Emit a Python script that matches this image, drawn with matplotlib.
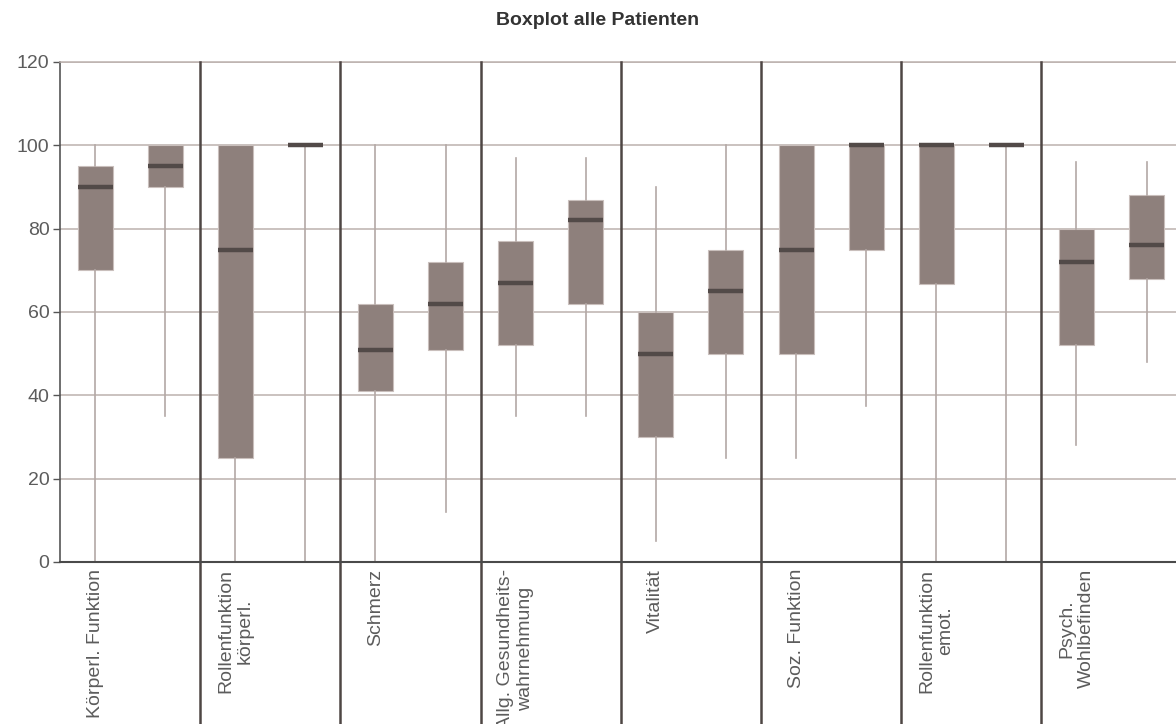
import matplotlib
matplotlib.use("Agg")
import matplotlib.pyplot as plt
import numpy as np

plt.rcParams['font.family'] = ['Liberation Sans', 'DejaVu Sans']

categories = ["Körperl. Funktion", "Rollenfunktion\nkörperl.", "Schmerz",
              "Allg. Gesundheits-\nwahrnehmung", "Vitalität", "Soz. Funktion",
              "Rollenfunktion\nemot.", "Psych.\nWohlbefinden"]

# Two boxes per scale: [first, second]
q1 = [[70, 90], [25, 100], [41, 51], [52, 62], [30, 50], [50, 75], [66.67, 100], [52, 68]]
med = [[90, 95], [75, 100], [51, 62], [67, 82], [50, 65], [75, 100], [100, 100], [72, 76]]
q3 = [[95, 100], [100, 100], [62, 72], [77, 87], [60, 75], [100, 100], [100, 100], [80, 88]]
whislo = [[0, 35], [0, 0], [0, 12], [35, 35], [5, 25], [25, 37.5], [0, 0], [28, 48]]
whishi = [[100, 100], [100, 100], [100, 100], [97, 97], [90, 100], [100, 100], [100, 100], [96, 96]]

yticks = [0, 20, 40, 60, 80, 100, 120]

box_c = '#8e807c'
edge_c = '#c9bfbc'
med_c = '#524a48'
whisk_c = '#b3a8a5'
grid_c = '#bcb2ae'
sep_c = '#4e4644'
axis_c = '#555555'
text_c = '#5c5c5c'

W, H = 1176, 724
fig = plt.figure(figsize=(W / 100, H / 100), dpi=100)
ax = fig.add_axes([60 / W, 1 - 562 / H, 1 - 60 / W, 500 / H])

n = len(categories)
stats, positions = [], []
for i in range(n):
    for j in range(2):
        stats.append(dict(med=med[i][j], q1=q1[i][j], q3=q3[i][j],
                          whislo=whislo[i][j], whishi=whishi[i][j]))
        positions.append(i + 0.25 + 0.5 * j)

ax.bxp(stats, positions=positions, widths=0.25, showcaps=False, showfliers=False,
       patch_artist=True,
       boxprops=dict(facecolor=box_c, edgecolor=edge_c, linewidth=0.8),
       medianprops=dict(color=med_c, linewidth=3.2, solid_capstyle='butt'),
       whiskerprops=dict(color=whisk_c, linewidth=1.2))

ax.set_xlim(0, (W - 60) / 140.2)
ax.set_ylim(0, 120)

# horizontal grid
ax.set_axisbelow(True)
ax.yaxis.grid(True, color=grid_c, linewidth=1.1)
ax.xaxis.grid(False)

# separators between the scales, running down through the label area
for k in range(1, n):
    ax.plot([k, k], [-0.4, 1], transform=ax.get_xaxis_transform(),
            color=sep_c, linewidth=1.8, clip_on=False, zorder=3)

ax.spines['right'].set_visible(False)
ax.spines['top'].set_color(grid_c)
ax.spines['top'].set_linewidth(1.1)
ax.spines['left'].set_color(axis_c)
ax.spines['left'].set_linewidth(1.2)
ax.spines['bottom'].set_color('#4a4a4a')
ax.spines['bottom'].set_linewidth(1.5)
ax.spines['bottom'].set_zorder(4)

ax.set_yticks(yticks)
ax.set_yticklabels([str(v) for v in yticks])
ax.tick_params(axis='y', length=5, width=1, color=axis_c, labelsize=14,
               labelcolor=text_c, pad=2.5)

ax.set_xticks(np.arange(n) + 0.25)
ax.set_xticklabels(categories, rotation=90, ha='center', va='top',
                   multialignment='center')
ax.tick_params(axis='x', length=0, labelsize=14, labelcolor=text_c, pad=5)

fig.text(598 / W, 1 - 25 / H, "Boxplot alle Patienten", ha='center', va='baseline',
         fontsize=14, fontweight='bold', color='#333333')

fig.savefig("out.png", dpi=100)
